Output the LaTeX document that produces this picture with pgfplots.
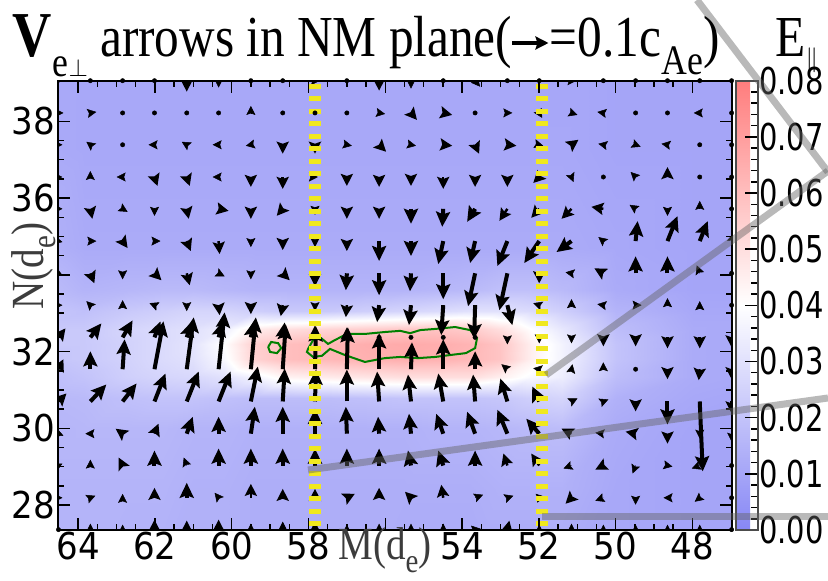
\documentclass[border=0pt]{standalone}
\usepackage{fontspec}
\setmainfont{Liberation Serif}
\newfontfamily\tickfont{DejaVu Sans}[FakeStretch=0.92]
\newfontfamily\ttl{Liberation Serif}[FakeStretch=0.85]
\usepackage{graphicx}
\usepackage{pgfplots}
\pgfplotsset{compat=1.18}
\usepackage{pgfplotstable}
\usetikzlibrary{arrows.meta}
\definecolor{ylw}{RGB}{240,232,30}
\definecolor{cgreen}{RGB}{0,128,0}
\definecolor{lblgray}{RGB}{60,60,60}
\definecolor{linegray}{RGB}{100,100,100}
\newcommand{\cb}[1]{\scalebox{0.85}[1]{#1}}

% E_par on a coarse grid (M, N, value)
\pgfplotstableread[row sep=\\]{
M N E\\
46.97 27.35 0.010\\ 49 27.35 0.010\\ 51 27.35 0.011\\ 51.8 27.35 0.012\\ 52.6 27.35 0.012\\ 53.4 27.35 0.012\\ 54.2 27.35 0.012\\ 55 27.35 0.012\\ 56 27.35 0.012\\ 57 27.35 0.013\\ 58 27.35 0.013\\ 59 27.35 0.013\\ 59.8 27.35 0.013\\ 60.6 27.35 0.014\\ 61.4 27.35 0.014\\ 62.2 27.35 0.014\\ 63.2 27.35 0.014\\ 64.51 27.35 0.015\\
46.97 29.5 0.010\\ 49 29.5 0.010\\ 51 29.5 0.011\\ 51.8 29.5 0.014\\ 52.6 29.5 0.014\\ 53.4 29.5 0.014\\ 54.2 29.5 0.013\\ 55 29.5 0.013\\ 56 29.5 0.013\\ 57 29.5 0.013\\ 58 29.5 0.013\\ 59 29.5 0.013\\ 59.8 29.5 0.013\\ 60.6 29.5 0.014\\ 61.4 29.5 0.014\\ 62.2 29.5 0.015\\ 63.2 29.5 0.015\\ 64.51 29.5 0.015\\
46.97 30.5 0.010\\ 49 30.5 0.010\\ 51 30.5 0.012\\ 51.8 30.5 0.018\\ 52.6 30.5 0.017\\ 53.4 30.5 0.016\\ 54.2 30.5 0.015\\ 55 30.5 0.015\\ 56 30.5 0.014\\ 57 30.5 0.014\\ 58 30.5 0.014\\ 59 30.5 0.014\\ 59.8 30.5 0.014\\ 60.6 30.5 0.015\\ 61.4 30.5 0.015\\ 62.2 30.5 0.016\\ 63.2 30.5 0.016\\ 64.51 30.5 0.016\\
46.97 31.1 0.010\\ 49 31.1 0.011\\ 51 31.1 0.014\\ 51.8 31.1 0.026\\ 52.6 31.1 0.024\\ 53.4 31.1 0.021\\ 54.2 31.1 0.020\\ 55 31.1 0.020\\ 56 31.1 0.020\\ 57 31.1 0.019\\ 58 31.1 0.018\\ 59 31.1 0.018\\ 59.8 31.1 0.018\\ 60.6 31.1 0.019\\ 61.4 31.1 0.020\\ 62.2 31.1 0.020\\ 63.2 31.1 0.019\\ 64.51 31.1 0.017\\
46.97 31.6 0.011\\ 49 31.6 0.012\\ 51 31.6 0.018\\ 51.8 31.6 0.034\\ 52.6 31.6 0.038\\ 53.4 31.6 0.045\\ 54.2 31.6 0.050\\ 55 31.6 0.050\\ 56 31.6 0.050\\ 57 31.6 0.048\\ 58 31.6 0.046\\ 59 31.6 0.044\\ 59.8 31.6 0.036\\ 60.6 31.6 0.030\\ 61.4 31.6 0.027\\ 62.2 31.6 0.026\\ 63.2 31.6 0.024\\ 64.51 31.6 0.020\\
46.97 32.0 0.011\\ 49 32.0 0.012\\ 51 32.0 0.020\\ 51.8 32.0 0.036\\ 52.6 32.0 0.045\\ 53.4 32.0 0.058\\ 54.2 32.0 0.062\\ 55 32.0 0.064\\ 56 32.0 0.065\\ 57 32.0 0.064\\ 58 32.0 0.062\\ 59 32.0 0.060\\ 59.8 32.0 0.054\\ 60.6 32.0 0.038\\ 61.4 32.0 0.030\\ 62.2 32.0 0.028\\ 63.2 32.0 0.025\\ 64.51 32.0 0.022\\
46.97 32.4 0.011\\ 49 32.4 0.012\\ 51 32.4 0.020\\ 51.8 32.4 0.036\\ 52.6 32.4 0.045\\ 53.4 32.4 0.058\\ 54.2 32.4 0.063\\ 55 32.4 0.065\\ 56 32.4 0.066\\ 57 32.4 0.065\\ 58 32.4 0.062\\ 59 32.4 0.060\\ 59.8 32.4 0.055\\ 60.6 32.4 0.040\\ 61.4 32.4 0.031\\ 62.2 32.4 0.028\\ 63.2 32.4 0.025\\ 64.51 32.4 0.022\\
46.97 32.8 0.011\\ 49 32.8 0.012\\ 51 32.8 0.018\\ 51.8 32.8 0.032\\ 52.6 32.8 0.040\\ 53.4 32.8 0.050\\ 54.2 32.8 0.056\\ 55 32.8 0.058\\ 56 32.8 0.057\\ 57 32.8 0.055\\ 58 32.8 0.053\\ 59 32.8 0.050\\ 59.8 32.8 0.046\\ 60.6 32.8 0.034\\ 61.4 32.8 0.030\\ 62.2 32.8 0.028\\ 63.2 32.8 0.026\\ 64.51 32.8 0.022\\
46.97 33.3 0.011\\ 49 33.3 0.011\\ 51 33.3 0.015\\ 51.8 33.3 0.024\\ 52.6 33.3 0.028\\ 53.4 33.3 0.030\\ 54.2 33.3 0.030\\ 55 33.3 0.028\\ 56 33.3 0.026\\ 57 33.3 0.024\\ 58 33.3 0.022\\ 59 33.3 0.022\\ 59.8 33.3 0.024\\ 60.6 33.3 0.026\\ 61.4 33.3 0.026\\ 62.2 33.3 0.024\\ 63.2 33.3 0.022\\ 64.51 33.3 0.019\\
46.97 33.9 0.010\\ 49 33.9 0.010\\ 51 33.9 0.012\\ 51.8 33.9 0.017\\ 52.6 33.9 0.019\\ 53.4 33.9 0.019\\ 54.2 33.9 0.017\\ 55 33.9 0.016\\ 56 33.9 0.015\\ 57 33.9 0.015\\ 58 33.9 0.015\\ 59 33.9 0.015\\ 59.8 33.9 0.015\\ 60.6 33.9 0.016\\ 61.4 33.9 0.017\\ 62.2 33.9 0.017\\ 63.2 33.9 0.016\\ 64.51 33.9 0.015\\
46.97 35.5 0.010\\ 49 35.5 0.010\\ 51 35.5 0.011\\ 51.8 35.5 0.012\\ 52.6 35.5 0.012\\ 53.4 35.5 0.012\\ 54.2 35.5 0.012\\ 55 35.5 0.012\\ 56 35.5 0.012\\ 57 35.5 0.012\\ 58 35.5 0.012\\ 59 35.5 0.012\\ 59.8 35.5 0.012\\ 60.6 35.5 0.012\\ 61.4 35.5 0.012\\ 62.2 35.5 0.012\\ 63.2 35.5 0.012\\ 64.51 35.5 0.012\\
46.97 39.06 0.010\\ 49 39.06 0.010\\ 51 39.06 0.010\\ 51.8 39.06 0.011\\ 52.6 39.06 0.011\\ 53.4 39.06 0.011\\ 54.2 39.06 0.011\\ 55 39.06 0.011\\ 56 39.06 0.011\\ 57 39.06 0.011\\ 58 39.06 0.011\\ 59 39.06 0.011\\ 59.8 39.06 0.011\\ 60.6 39.06 0.011\\ 61.4 39.06 0.011\\ 62.2 39.06 0.011\\ 63.2 39.06 0.011\\ 64.51 39.06 0.011\\
}\surfdata

% arrows: tail (M,N), tip offset in pixels (dx to the right, dy up)
\pgfplotstableread[row sep=\\]{
M N dx dy\\
55.33 35.72 0 -15\\ 54.49 35.72 -1 -18\\ 53.66 35.72 -8 -13\\
56.16 34.88 0 -20\\ 55.33 34.88 0 -15\\ 54.49 34.88 -5 -23\\ 53.66 34.88 -5 -22\\ 52.82 34.88 -10 -25\\ 51.99 34.88 -15 -22\\ 51.15 34.88 -15 -11\\ 49.48 34.88 2 20\\ 48.65 34.88 10 25\\ 47.81 34.88 8 20\\
57.00 34.04 -1 -17\\ 56.16 34.04 0 -22\\ 55.33 34.04 -1 -18\\ 54.49 34.04 0 -26\\ 53.66 34.04 -7 -33\\ 52.82 34.04 -8 -37\\ 49.48 34.04 0 17\\ 48.65 34.04 0 17\\
56.16 33.21 -2 -17\\ 55.33 33.21 -2 -20\\ 54.49 33.21 -2 -30\\ 53.66 33.21 -1 -34\\ 52.82 33.21 5 -20\\
63.68 32.37 11 14\\ 62.84 32.37 10 17\\ 62.01 32.37 6 16\\ 61.17 32.37 5 16\\ 60.34 32.37 4 16\\ 59.50 32.37 3 16\\ 58.67 32.37 2 15\\
63.68 31.54 0 18\\ 62.84 31.54 2 30\\ 62.01 31.54 9 48\\ 61.17 31.54 7 52\\ 60.34 31.54 6 57\\ 59.50 31.54 5 52\\ 58.67 31.54 3 45\\ 57.83 31.54 1 43\\ 57.00 31.54 1 42\\ 56.16 31.54 0 36\\ 55.33 31.54 1 27\\ 54.49 31.54 0 30\\ 53.66 31.54 0 18\\
63.68 30.70 16 17\\ 62.84 30.70 14 18\\ 62.01 30.70 11 28\\ 61.17 30.70 12 30\\ 60.34 30.70 12 30\\ 59.50 30.70 7 35\\ 58.67 30.70 2 33\\ 57.83 30.70 1 32\\ 57.00 30.70 0 32\\ 56.16 30.70 -2 30\\ 55.33 30.70 -3 27\\ 54.49 30.70 -5 28\\ 53.66 30.70 -2 27\\ 52.82 30.70 -7 23\\ 51.99 30.70 -7 15\\ 48.65 30.70 0 -23\\ 47.81 30.70 3 -70\\
61.17 29.86 6 17\\ 60.34 29.86 0 17\\ 59.50 29.86 4 27\\ 58.67 29.86 0 27\\ 57.83 29.86 0 25\\ 57.00 29.86 -1 27\\ 56.16 29.86 -1 17\\ 55.33 29.86 -2 20\\ 54.49 29.86 -7 20\\ 53.66 29.86 -8 22\\ 52.82 29.86 -10 24\\ 51.99 29.86 -13 15\\
62.01 29.03 0 15\\ 60.34 29.03 0 17\\ 59.50 29.03 0 17\\ 58.67 29.03 0 17\\ 57.83 29.03 0 17\\ 57.00 29.03 0 17\\ 56.16 29.03 0 17\\ 55.33 29.03 -3 15\\ 54.49 29.03 -5 15\\ 53.66 29.03 0 15\\
61.17 28.19 0 15\\
}\bigarrows

\pgfplotstableread[row sep=\\]{
M N dx dy\\
61.17 39.06 0 -11\\ 56.16 39.06 0 -10\\
55.33 38.22 6 -7\\ 54.49 38.22 9 -2\\
58.67 37.39 0 -9\\ 57.83 37.39 0 -9\\ 56.16 37.39 7 -7\\ 54.49 37.39 9 -1\\ 53.66 37.39 4 -9\\ 52.82 37.39 9 -1\\ 51.15 37.39 7 5\\
62.01 36.55 3 -9\\ 61.17 36.55 3 -9\\ 59.50 36.55 0 -10\\ 58.67 36.55 0 -12\\ 57.00 36.55 0 -9\\ 56.16 36.55 0 -10\\ 55.33 36.55 0 -9\\ 54.49 36.55 0 -12\\ 53.66 36.55 0 -10\\ 52.82 36.55 0 -10\\ 51.99 36.55 -6 -6\\ 48.65 36.55 0 10\\
63.68 35.72 2 -10\\ 61.17 35.72 2 -10\\ 60.34 35.72 10 -2\\ 59.50 35.72 0 -10\\ 58.67 35.72 -6 -7\\ 57.00 35.72 0 -10\\ 56.16 35.72 0 -10\\ 52.82 35.72 -8 -12\\ 51.99 35.72 -8 -9\\ 51.15 35.72 -10 -10\\ 50.32 35.72 -12 2\\
62.84 34.88 5 -7\\ 61.17 34.88 4 -10\\ 60.34 34.88 1 -13\\ 58.67 34.88 0 -9\\ 57.00 34.88 0 -10\\
63.68 34.04 4 -10\\ 62.01 34.04 7 -7\\ 61.17 34.04 3 -12\\ 58.67 34.04 7 -7\\ 57.83 34.04 0 -13\\ 51.99 34.04 0 -10\\ 50.32 34.04 -9 5\\
60.34 33.21 1 -10\\ 59.50 33.21 0 -9\\ 58.67 33.21 -2 -11\\ 57.00 33.21 -1 -12\\
64.51 32.37 7 9\\ 57.83 32.37 0 12\\ 57.00 32.37 0 10\\ 50.32 32.37 0 -9\\ 49.48 32.37 0 -9\\ 48.65 32.37 0 -11\\ 47.81 32.37 0 -11\\ 46.98 32.37 0 -10\\
64.51 31.54 5 10\\ 48.65 31.54 0 -10\\ 47.81 31.54 -1 -11\\ 46.98 31.54 0 -10\\
64.51 30.70 8 8\\ 49.48 30.70 0 -10\\ 46.98 30.70 0 -12\\
62.84 29.86 -7 5\\ 62.01 29.86 4 10\\ 51.15 29.86 -10 5\\ 49.48 29.86 -10 2\\ 48.65 29.86 0 -10\\
62.84 29.03 -4 8\\ 52.82 29.03 -4 12\\ 51.99 29.03 -8 12\\ 50.32 29.03 -8 -4\\
62.01 28.19 0 10\\ 59.50 28.19 0 14\\ 58.67 28.19 0 9\\ 57.83 28.19 0 9\\ 57.00 28.19 8 4\\ 56.16 28.19 0 10\\ 55.33 28.19 -6 6\\ 54.49 28.19 -2 13\\ 51.15 28.19 -6 -6\\
62.01 27.36 0 10\\ 61.17 27.36 0 9\\ 60.34 27.36 0 10\\ 52.82 27.36 2 9\\
}\medarrows

\pgfplotstableread[row sep=\\]{
M N dx dy\\
64.51 39.06 4 0\\ 60.34 39.06 0 -7\\ 57.83 39.06 5 0\\ 55.33 39.06 0 -8\\ 53.66 39.06 5 -6\\ 51.15 39.06 5 0\\
64.51 38.22 5 0\\ 63.68 38.22 6 1\\ 59.50 38.22 0 7\\ 56.16 38.22 6 -1\\ 52.82 38.22 5 0\\ 51.99 38.22 3 -5\\ 51.15 38.22 6 -2\\ 50.32 38.22 -6 1\\ 47.81 38.22 -6 0\\
64.51 37.39 4 0\\ 63.68 37.39 -4 3\\ 62.01 37.39 -6 0\\ 61.17 37.39 -5 3\\ 60.34 37.39 -6 0\\ 59.50 37.39 -5 -1\\ 57.00 37.39 5 -1\\ 55.33 37.39 5 -1\\ 51.99 37.39 4 -1\\ 50.32 37.39 -5 1\\ 49.48 37.39 5 -2\\ 48.65 37.39 -6 1\\
64.51 36.55 4 0\\ 63.68 36.55 0 6\\ 62.84 36.55 -6 0\\ 60.34 36.55 -6 0\\ 57.83 36.55 3 0\\ 51.15 36.55 2 -5\\ 49.48 36.55 -5 5\\
64.51 35.72 4 0\\ 62.84 35.72 5 -3\\ 62.01 35.72 0 -7\\ 57.83 35.72 0 -6\\ 49.48 35.72 -6 4\\ 48.65 35.72 0 -7\\ 47.81 35.72 0 8\\
64.51 34.88 4 -1\\ 63.68 34.88 6 0\\ 62.01 34.88 6 0\\ 59.50 34.88 0 -6\\ 57.83 34.88 0 -6\\ 50.32 34.88 -5 4\\ 46.98 34.88 2 8\\
64.51 34.04 4 -2\\ 62.84 34.04 0 -6\\ 60.34 34.04 6 -3\\ 59.50 34.04 0 -6\\ 51.15 34.04 -6 1\\ 47.81 34.04 -3 8\\
64.51 33.21 4 0\\ 63.68 33.21 -4 4\\ 62.84 33.21 0 5\\ 62.01 33.21 -5 2\\ 61.17 33.21 0 -6\\ 57.83 33.21 0 -6\\ 51.99 33.21 -6 2\\ 51.15 33.21 0 6\\ 50.32 33.21 -6 1\\ 49.48 33.21 6 0\\ 48.65 33.21 0 7\\ 47.81 33.21 0 4\\
52.82 32.37 0 -7\\ 51.99 32.37 0 -6\\ 51.15 32.37 0 -6\\
52.82 31.54 -6 5\\ 51.99 31.54 -6 1\\ 51.15 31.54 1 5\\ 50.32 31.54 0 7\\
51.15 30.70 6 3\\ 50.32 30.70 5 2\\
64.51 29.86 5 -2\\ 63.68 29.86 -5 0\\ 50.32 29.86 -8 1\\ 47.81 29.86 0 -5\\ 46.98 29.86 0 -8\\
64.51 29.03 4 2\\ 63.68 29.03 0 6\\ 61.17 29.03 -3 8\\ 51.15 29.03 -8 -3\\ 49.48 29.03 -3 -8\\ 48.65 29.03 5 -1\\ 47.81 29.03 -8 -3\\
64.51 28.19 4 0\\ 63.68 28.19 5 2\\ 62.84 28.19 0 4\\ 60.34 28.19 -4 5\\ 53.66 28.19 8 3\\ 52.82 28.19 6 2\\ 51.99 28.19 6 1\\ 50.32 28.19 -8 -3\\ 49.48 28.19 0 -7\\ 48.65 28.19 -4 0\\ 47.81 28.19 -5 -4\\
63.68 27.36 0 6\\ 62.84 27.36 0 5\\ 59.50 27.36 0 6\\ 58.67 27.36 0 8\\ 57.83 27.36 0 8\\ 57.00 27.36 0 5\\ 56.16 27.36 0 6\\ 55.33 27.36 0 6\\ 54.49 27.36 0 6\\ 53.66 27.36 -4 4\\ 51.99 27.36 0 5\\ 51.15 27.36 0 6\\ 50.32 27.36 0 5\\ 49.48 27.36 0 5\\ 48.65 27.36 0 5\\ 47.81 27.36 0 5\\
}\smallarrows

\pgfplotstableread[row sep=\\]{
M N\\
63.68 39.06\\ 62.84 39.06\\ 62.01 39.06\\ 59.50 39.06\\ 58.67 39.06\\ 57.00 39.06\\ 54.49 39.06\\ 52.82 39.06\\ 51.99 39.06\\ 50.32 39.06\\ 49.48 39.06\\ 48.65 39.06\\ 47.81 39.06\\ 46.98 39.06\\
62.84 38.22\\ 62.01 38.22\\ 61.17 38.22\\ 60.34 38.22\\ 58.67 38.22\\ 57.83 38.22\\ 57.00 38.22\\ 53.66 38.22\\ 49.48 38.22\\ 48.65 38.22\\ 46.98 38.22\\
62.84 37.39\\ 47.81 37.39\\ 46.98 37.39\\
50.32 36.55\\ 47.81 36.55\\ 46.98 36.55\\
46.98 35.72\\ 46.98 34.04\\ 46.98 33.21\\
56.16 32.37\\ 55.33 32.37\\ 54.49 32.37\\ 53.66 32.37\\
49.48 31.54\\ 46.98 29.03\\ 46.98 28.19\\ 64.51 27.36\\ 46.98 27.36\\
}\dotpts

\begin{document}
\begin{tikzpicture}[x=1pt,y=1pt]
\path[use as bounding box] (0,0) rectangle (828,581);
\clip (0,0) rectangle (828,581);
\begin{axis}[
  at={(58.5pt,51pt)}, anchor=south west,
  width=673.5pt, height=449.3pt, scale only axis,
  x dir=reverse,
  xmin=46.97, xmax=64.51, ymin=27.35, ymax=39.06,
  xtick={48,50,52,54,56,58,60,62,64},
  xticklabels={48,50,52,54,,58,60,62,64},
  ytick={28,30,32,34,36,38},
  yticklabels={28,30,32,,36,38},
  minor x tick num=3, minor y tick num=3,
  tick pos=both, tick align=inside,
  major tick length=12pt, minor tick length=6pt,
  tick style={black, line width=1.5pt},
  axis line style={line width=2pt},
  axis on top,
  tick label style={font=\tickfont\fontsize{37}{37}\selectfont, inner sep=0pt},
  xticklabel style={anchor=base, yshift=-30pt},
  yticklabel style={anchor=east, xshift=-3.5pt},
  colormap={bwrl}{rgb255=(135,135,245) rgb255=(255,255,255) rgb255=(255,125,125)},
  point meta min=0, point meta max=0.08,
  colorbar,
  colorbar shift/.style={xshift=4pt},
  colorbar style={
    at={(parent axis.north east)}, anchor=north west,
    scale only axis, width=22pt, height=449.3pt,
    ytick={0,0.01,0.02,0.03,0.04,0.05,0.06,0.07,0.08},
    yticklabels={\cb{0.00},\cb{0.01},\cb{0.02},\cb{0.03},\cb{0.04},\cb{0.05},\cb{0.06},\cb{0.07},\cb{0.08}},
    scaled y ticks=false,
    minor y tick num=4,
    ytick pos=right, yticklabel pos=right, tick align=inside,
    major tick length=13pt, minor tick length=7pt,
    tick style={black, line width=1.5pt},
    axis line style={line width=2pt, draw=black!70},
    yticklabel style={font=\tickfont\fontsize{37}{37}\selectfont, inner sep=0pt, anchor=west, xshift=1pt},
  },
]
\addplot[matrix plot*, shader=interp, mesh/cols=18, point meta=explicit]
  table[x=M, y=N, meta=E] {\surfdata};

\addplot[cgreen, line width=2pt] coordinates {
 (58.01,32.07) (57.88,32.30) (57.67,32.35) (57.49,32.20) (57.31,32.30) (57.00,32.46)
 (56.53,32.46) (56.01,32.51) (55.61,32.54) (55.35,32.48) (55.09,32.56) (54.70,32.59)
 (54.18,32.64) (53.79,32.56) (53.61,32.35) (53.66,32.09) (53.90,31.96) (54.31,31.91)
 (54.70,31.86) (55.15,31.83) (55.61,31.86) (56.01,31.83) (56.53,31.73) (57.05,31.91)
 (57.44,32.07) (57.65,31.89) (57.88,31.86) (58.04,31.99) (58.01,32.07)};
\addplot[cgreen, line width=2pt] coordinates {
 (59.05,32.12) (58.97,32.25) (58.79,32.22) (58.71,32.09) (58.82,31.96) (59.00,31.99) (59.05,32.12)};

\addplot[black, line width=4pt, -{Stealth[length=15pt,width=14pt,inset=2.5pt]},
  quiver={u={-(\thisrow{dx})}, v=\thisrow{dy}, scale arrows=0.026}]
  table[x=M, y=N] {\bigarrows};
\addplot[black, line width=2.5pt, -{Stealth[length=12pt,width=12pt,inset=2pt]},
  quiver={u={-(\thisrow{dx})}, v=\thisrow{dy}, scale arrows=0.026}]
  table[x=M, y=N] {\medarrows};
\addplot[black, line width=0.5pt, -{Stealth[length=9pt,width=9pt,inset=1.5pt]},
  quiver={u={-(\thisrow{dx})}, v=\thisrow{dy}, scale arrows=0.026}]
  table[x=M, y=N] {\smallarrows};
\addplot[only marks, black, mark=*, mark size=2.2pt] table[x=M, y=N] {\dotpts};

\addplot[ylw, line width=12pt, dash pattern=on 5pt off 7.5pt] coordinates {(57.83,38.98) (57.83,27.36)};
\addplot[ylw, line width=12pt, dash pattern=on 5pt off 7.5pt] coordinates {(51.93,38.98) (51.93,27.36)};
\end{axis}

% connector lines
\draw[linegray, opacity=0.45, line width=7pt] (697,581) -- (828,409);
\draw[linegray, opacity=0.45, line width=7pt] (546,206) -- (828,410);
\draw[linegray, opacity=0.45, line width=7pt] (308,111) -- (828,183);
\draw[linegray, opacity=0.45, line width=7pt] (542,64) -- (828,64);

% title
\node[anchor=base west, inner sep=0] (tV) at (12,524) {\ttl\bfseries\fontsize{64}{64}\selectfont V};
\node[anchor=base west, inner sep=0] at ([xshift=1pt,yshift=-20pt]tV.base east) {\ttl\fontsize{42}{42}\selectfont e$\perp$};
\node[anchor=base west, inner sep=0] (ta) at (100,524) {\ttl\fontsize{58}{58}\selectfont arrows in NM plane(};
\draw[line width=4pt, -{Stealth[length=13pt,width=13pt,inset=2pt]}] ([yshift=14pt]ta.base east) -- ++(36,0);
\node[anchor=base west, inner sep=0] (tc) at ([xshift=37pt]ta.base east) {\ttl\fontsize{58}{58}\selectfont =0.1c};
\node[anchor=base west, inner sep=0] (tae) at ([yshift=-18pt]tc.base east) {\ttl\fontsize{42}{42}\selectfont Ae};
\node[anchor=base west, inner sep=0] at ([yshift=18pt]tae.base east) {\ttl\fontsize{58}{58}\selectfont )};
\node[anchor=base west, inner sep=0] (tE) at (775,524) {\ttl\fontsize{58}{58}\selectfont E};
\node[anchor=base west, inner sep=0] at ([yshift=-10pt]tE.base east) {\fontsize{30}{30}\selectfont $\parallel$};

% axis labels
\node[anchor=base, inner sep=0, text=lblgray] at (385,21)
  {\ttl\fontsize{46}{46}\selectfont M(d\lower13pt\hbox{\fontsize{34}{34}\selectfont e})};
\node[anchor=base, inner sep=0, text=lblgray, rotate=90] at (43,315)
  {\ttl\fontsize{46}{46}\selectfont N(d\lower13pt\hbox{\fontsize{34}{34}\selectfont e})};
\end{tikzpicture}
\end{document}
